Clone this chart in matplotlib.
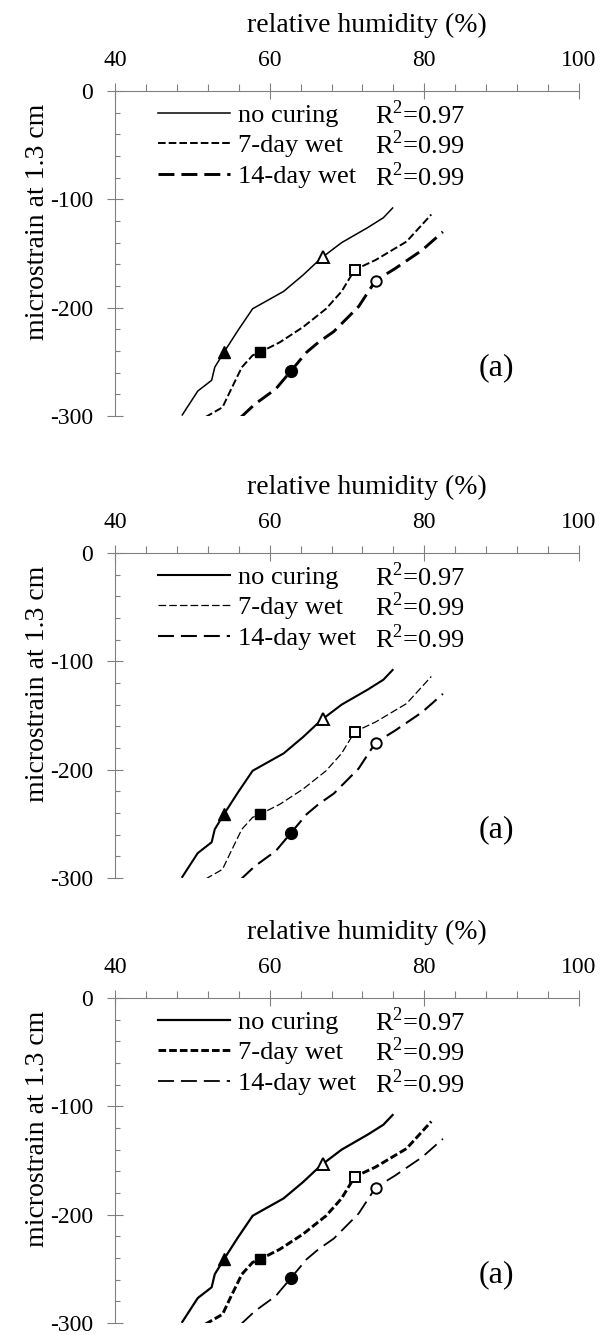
import matplotlib
matplotlib.use('Agg')
import matplotlib.pyplot as plt
from matplotlib.ticker import MultipleLocator

plt.rcParams['font.family'] = ['Liberation Serif', 'DejaVu Serif']
plt.rcParams['axes.unicode_minus'] = False
plt.rcParams['lines.scale_dashes'] = False
plt.rcParams['mathtext.fontset'] = 'custom'
plt.rcParams['mathtext.rm'] = 'Liberation Serif'

# no curing (solid)
rh_none = [48.7, 50.7, 52.5, 52.9, 54.1, 55.9, 57.8, 59.8, 61.8, 64.3, 65.8, 66.9, 69.3, 72.7, 74.7, 75.9]
strain_none = [-299, -277, -267, -255, -241, -221, -201, -193, -185, -170, -160, -153, -140, -126, -117, -108]

# 7-day wet (short dashes)
rh_7d = [51.7, 53.9, 54.9, 56.4, 57.8, 58.8, 61.3, 64.3, 67.3, 69.3, 71.0, 73.7, 77.7, 80.9]
strain_7d = [-301, -292, -277, -255, -244, -241, -232, -218, -201, -185, -165, -156, -139, -114]

# 14-day wet (long dashes)
rh_14d = [56.3, 58.1, 60.8, 62.8, 64.8, 66.3, 68.3, 71.5, 73.7, 76.2, 79.7, 82.4]
strain_14d = [-301, -289, -275, -258, -241, -232, -222, -199, -175, -164, -147, -130]

# marked points (filled, open)
tri_rh = [54.1, 66.9]
tri_strain = [-241, -153]
sq_rh = [58.8, 71.0]
sq_strain = [-241, -165]
circ_rh = [62.8, 73.7]
circ_strain = [-258, -175]

labels = ['no curing', '7-day wet', '14-day wet']
r2_values = ['0.97', '0.99', '0.99']

GRAY = '#808080'
DPI = 100

# line widths (solid, 7-day, 14-day) for each of the three panels
panel_lw = [(1.1, 1.4, 2.1), (1.5, 0.9, 1.5), (1.6, 2.1, 1.3)]
panel_top = [91, 553, 998]  # pixel row of the x axis


def draw_panel(ax, lws):
    lw0, lw7, lw14 = lws
    ax.plot(rh_none, strain_none, color='black', lw=lw0, label=labels[0])
    ax.plot(rh_7d, strain_7d, color='black', lw=lw7, dashes=(5.5, 2.2), label=labels[1])
    ax.plot(rh_14d, strain_14d, color='black', lw=lw14, dashes=(11.5, 5.0), label=labels[2])

    for xs, ys, m, ms in [(tri_rh, tri_strain, '^', 9), (sq_rh, sq_strain, 's', 7.5),
                          (circ_rh, circ_strain, 'o', 8.5)]:
        ax.plot(xs[0], ys[0], marker=m, ms=ms, color='black', mec='black', ls='none')
        ax.plot(xs[1], ys[1], marker=m, ms=ms - 1, mfc='white', mec='black', mew=1.4, ls='none')

    ax.set_xlim(40, 100)
    ax.set_ylim(-300, 0)
    ax.xaxis.tick_top()
    ax.set_xticks([40, 60, 80, 100])
    ax.xaxis.set_minor_locator(MultipleLocator(4))
    ax.set_yticks([0, -100, -200, -300])
    ax.yaxis.set_minor_locator(MultipleLocator(20))

    ax.tick_params(axis='x', which='major', direction='inout', length=11.5, width=0.8,
                   color=GRAY, pad=9, labelsize=17, top=True, bottom=False)
    ax.tick_params(axis='x', which='minor', direction='out', length=5, width=0.8,
                   color=GRAY, top=True, bottom=False)
    ax.tick_params(axis='y', which='major', direction='inout', length=11.5, width=0.8,
                   color=GRAY, pad=10, labelsize=17)
    ax.tick_params(axis='y', which='minor', direction='in', length=3.6, width=0.8, color=GRAY)

    for s in ['right', 'bottom']:
        ax.spines[s].set_visible(False)
    for s in ['top', 'left']:
        ax.spines[s].set_color(GRAY)
        ax.spines[s].set_linewidth(0.8)

    ax.text(0.543, 1.203, 'relative humidity (%)', transform=ax.transAxes,
            ha='center', va='center', fontsize=20)
    ax.text(-0.168, 0.597, 'microstrain at 1.3 cm', transform=ax.transAxes,
            ha='center', va='center', rotation=90, fontsize=20)

    ax.legend(loc='upper left', bbox_to_anchor=(0.0927, 0.962), frameon=False, fontsize=19,
              handlelength=2.73, handletextpad=0.3, borderpad=0, borderaxespad=0,
              labelspacing=0.27)
    for yy, v in zip([0.926, 0.834, 0.738], r2_values):
        ax.text(0.560, yy, r'$\mathrm{R}^{2}$=' + v, transform=ax.transAxes,
                ha='left', va='center', fontsize=19)

    ax.text(0.823, 0.148, '(a)', transform=ax.transAxes, ha='center', va='center', fontsize=23)


W, H = 601, 1335
fig = plt.figure(figsize=(W / DPI, H / DPI), dpi=DPI)
left = 115 / W
width = 464 / W
height = 325 / H
for top, lws in zip(panel_top, panel_lw):
    ax = fig.add_axes([left, 1 - (top + 325) / H, width, height])
    draw_panel(ax, lws)

fig.savefig('out.png', dpi=DPI)
